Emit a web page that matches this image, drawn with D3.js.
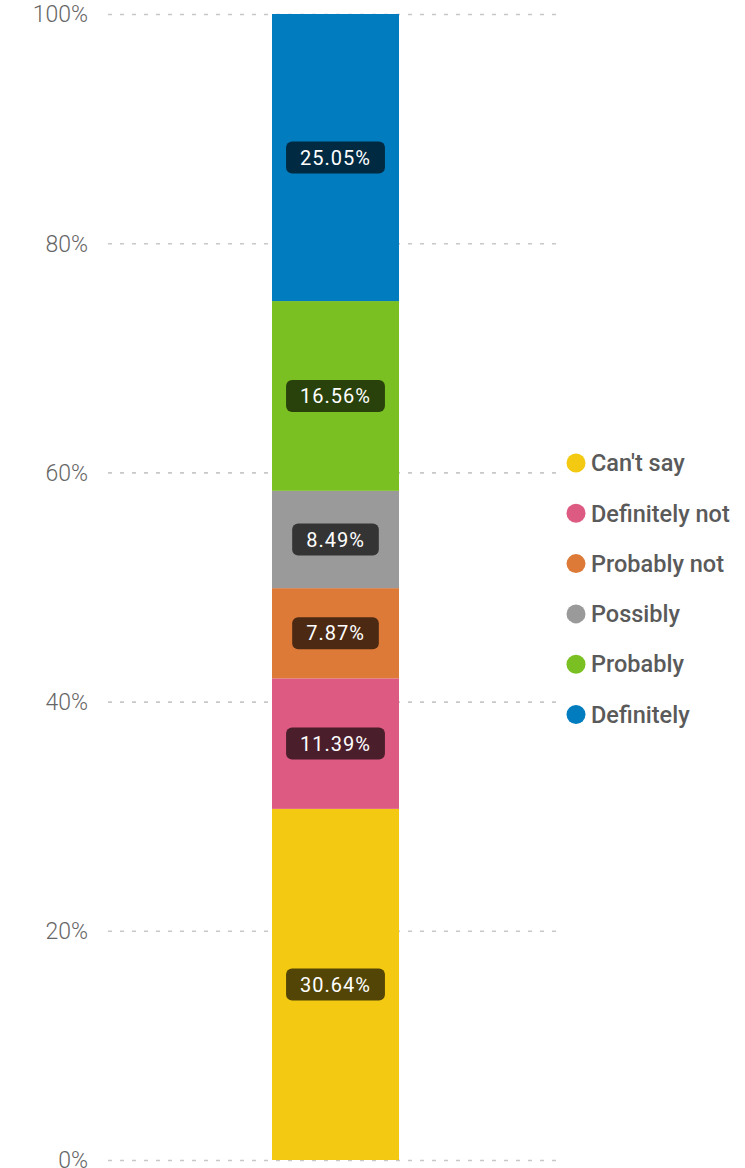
<!DOCTYPE html>
<html><head><meta charset="utf-8">
<script src="https://cdn.jsdelivr.net/npm/d3@7/dist/d3.min.js"></script>
<style>
html,body{margin:0;padding:0;background:#fff;}
svg{display:block;font-family:Roboto,"Noto Sans",sans-serif;}
</style></head>
<body>
<svg id="c" width="745" height="1168"></svg>
<script>
const categories = ["Can't say","Definitely not","Probably not","Possibly","Probably","Definitely"];
const values = [30.64, 11.39, 7.87, 8.49, 16.56, 25.05];
const colors = ["#F3C911","#DD5A82","#DE7A38","#9A9A9A","#7AC022","#017CBE"];
const tickValues = [0, 20, 40, 60, 80, 100];

const svg = d3.select("#c");
const y = d3.scaleLinear().domain([0,100]).range([1160,14]);
const x = d3.scaleBand().domain(["all"]).range([272,399]).padding(0);

// gridlines
svg.append("g").selectAll("line").data(tickValues).join("line")
  .attr("x1",108).attr("x2",558)
  .attr("y1",d=>y(d)+0.5).attr("y2",d=>y(d)+0.5)
  .attr("stroke","#c8c8c8").attr("stroke-width",1.6)
  .attr("stroke-dasharray","4,8");

// axis
const axis = d3.axisLeft(y).tickValues(tickValues).tickFormat(d=>d+"%").tickSize(0).tickPadding(0);
const ag = svg.append("g").attr("transform","translate(88,0)").call(axis);
ag.select(".domain").remove();
ag.selectAll("text").attr("font-size",23).attr("font-weight",300).attr("fill","#666")
  .attr("font-family","Roboto").attr("dy","0.34em");

// stacks
let cum = 0;
const segs = values.map((v,i)=>{const s={i,v,y0:cum,y1:cum+v}; cum+=v; return s;});
svg.append("g").selectAll("rect").data(segs).join("rect")
  .attr("x",x("all")).attr("width",x.bandwidth())
  .attr("y",d=>y(d.y1)).attr("height",d=>y(d.y0)-y(d.y1))
  .attr("fill",d=>colors[d.i]);

// labels
const lg = svg.append("g").selectAll("g").data(segs).join("g")
  .attr("transform",d=>`translate(${x("all")+x.bandwidth()/2},${y((d.y0+d.y1)/2)})`);
lg.each(function(d){
  const g = d3.select(this);
  const o = g.append("rect").attr("rx",6).attr("ry",6).attr("fill","rgba(0,0,0,0.66)");
  const t = g.append("text").text(d.v.toFixed(2)+"%")
    .attr("text-anchor","middle").attr("dy","0.36em")
    .attr("font-size",20).attr("font-weight",400).attr("fill","#fff")
    .attr("letter-spacing","1px");
  const w = t.node().getComputedTextLength();
  o.attr("x",-w/2-14).attr("y",-16).attr("width",w+28).attr("height",32);
});

// legend
const leg = svg.append("g").selectAll("g").data(categories).join("g")
  .attr("transform",(d,i)=>`translate(576,${463+i*50.3})`);
leg.append("circle").attr("r",9.5).attr("fill",(d,i)=>colors[i]);
leg.append("text").attr("x",15).attr("dy","0.35em").text(d=>d)
  .attr("font-size",23.5).attr("fill","#5a5a5a").attr("font-weight",500);
</script>
</body></html>
